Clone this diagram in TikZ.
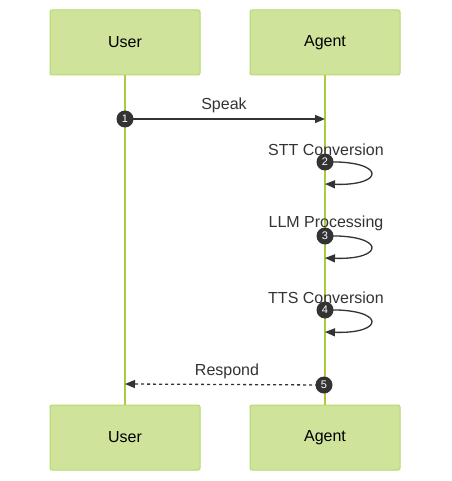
\documentclass[tikz,border=0pt]{standalone}
\usepackage{fontspec}
\setmainfont{Liberation Sans}
\usetikzlibrary{arrows.meta,backgrounds}
\definecolor{actorfill}{HTML}{CFE39A}
\definecolor{actorline}{HTML}{B5D970}
\definecolor{lifeline}{HTML}{A8CC40}
\definecolor{msgcolor}{HTML}{333333}
\def\actorwid{150pt}
\def\actorhgt{65pt}
\def\loopx{386}

\begin{document}
\begin{tikzpicture}[
            x=1pt, y=-1pt,
            actor/.style={%
                rectangle, rounded corners=2pt, line width=1pt,%
                minimum width=\actorwid, minimum height=\actorhgt,%
                text centered, draw=actorline, fill=actorfill,%
                font=\fontsize{16}{19}\selectfont%
            },
            stepnum/.style={%
                circle, fill=msgcolor, inner sep=0pt, minimum size=17pt,%
                text=white, font=\fontsize{11}{12}\selectfont%
            },
            label/.style={%
                text=msgcolor, font=\fontsize{16}{19}\selectfont%
            },
            life/.style={line width=1.2pt, draw=lifeline},
            arrow/.style={line width=1.3pt, draw=msgcolor,%
                -{Triangle[length=10pt,width=8pt]}, msgcolor}
        ]
        \useasboundingbox (0,0) rectangle (451,481);

        % Define nodes
        \node (userTop) [actor] at (125,42.5) {User};
        \node (agentTop) [actor] at (325,42.5) {Agent};
        \node (userBot) [actor] at (125,437.5) {User};
        \node (agentBot) [actor] at (325,437.5) {Agent};

        \node (step1) [stepnum] at (125,119) {1};
        \node (step2) [stepnum] at (325,162) {2};
        \node (step3) [stepnum] at (325,236) {3};
        \node (step4) [stepnum] at (325,310) {4};
        \node (step5) [stepnum] at (324,385) {5};

        \coordinate (speakEnd) at (325,119);
        \coordinate (sttEnd) at (325,184);
        \coordinate (llmEnd) at (325,258);
        \coordinate (ttsEnd) at (325,332);
        \coordinate (respEnd) at (125,384);

        \node (speak) [label] at (224,105.5) {Speak};
        \node (stt) [label] at (326,149.5) {STT Conversion};
        \node (llm) [label] at (326,223.5) {LLM Processing};
        \node (tts) [label] at (326,297.5) {TTS Conversion};
        \node (respond) [label] at (227,371.5) {Respond};

        \begin{scope}[on background layer]
        \draw [life] (userTop) -- (userBot);
        \draw [life] (agentTop) -- (agentBot);

        \draw [arrow] (step1.center) -- (speakEnd);
        \draw [arrow] (step2.center)
            .. controls (\loopx,160) and (\loopx,186) .. (sttEnd);
        \draw [arrow] (step3.center)
            .. controls (\loopx,234) and (\loopx,260) .. (llmEnd);
        \draw [arrow] (step4.center)
            .. controls (\loopx,308) and (\loopx,334) .. (ttsEnd);
        \draw [arrow, dash pattern=on 3pt off 3pt] (step5.center) -- (respEnd);
        \end{scope}

        \end{tikzpicture}
\end{document}
